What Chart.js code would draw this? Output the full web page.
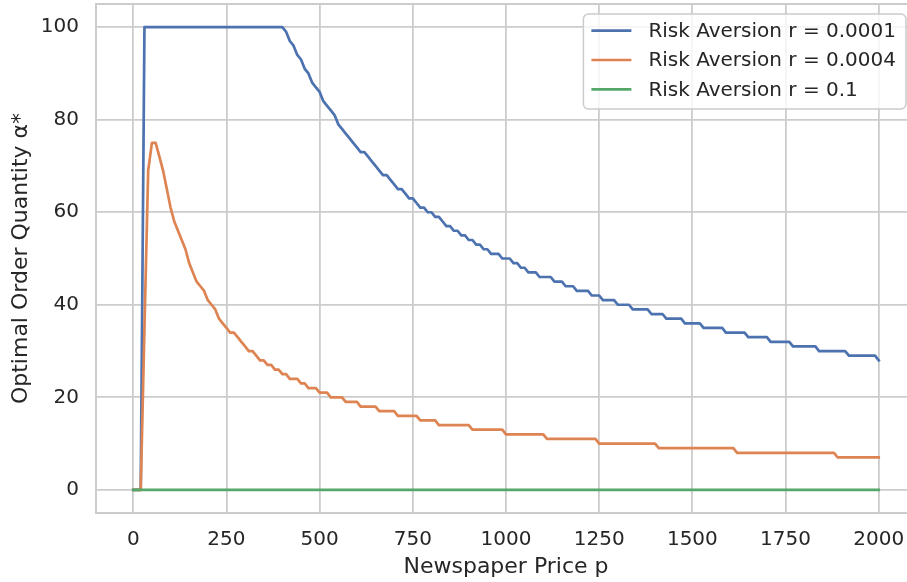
<!DOCTYPE html>
<html>
<head>
<meta charset="utf-8">
<title>Optimal order quantity vs price</title>
<script src="https://cdn.jsdelivr.net/npm/chart.js@4.4.1/dist/chart.umd.min.js"></script>
<style>
  html, body { margin: 0; padding: 0; background: #fff; overflow: hidden; }
  canvas { display: block; }
</style>
</head>
<body>
<canvas id="chart" width="917" height="582"></canvas>
<script>
// newspaper price grid (p)
var prices = [
  0, 10, 20, 30, 40, 50, 60, 70, 80, 90,
  100, 110, 120, 130, 140, 150, 160, 170, 180, 190,
  200, 210, 220, 230, 240, 250, 260, 270, 280, 290,
  300, 310, 320, 330, 340, 350, 360, 370, 380, 390,
  400, 410, 420, 430, 440, 450, 460, 470, 480, 490,
  500, 510, 520, 530, 540, 550, 560, 570, 580, 590,
  600, 610, 620, 630, 640, 650, 660, 670, 680, 690,
  700, 710, 720, 730, 740, 750, 760, 770, 780, 790,
  800, 810, 820, 830, 840, 850, 860, 870, 880, 890,
  900, 910, 920, 930, 940, 950, 960, 970, 980, 990,
  1000, 1010, 1020, 1030, 1040, 1050, 1060, 1070, 1080, 1090,
  1100, 1110, 1120, 1130, 1140, 1150, 1160, 1170, 1180, 1190,
  1200, 1210, 1220, 1230, 1240, 1250, 1260, 1270, 1280, 1290,
  1300, 1310, 1320, 1330, 1340, 1350, 1360, 1370, 1380, 1390,
  1400, 1410, 1420, 1430, 1440, 1450, 1460, 1470, 1480, 1490,
  1500, 1510, 1520, 1530, 1540, 1550, 1560, 1570, 1580, 1590,
  1600, 1610, 1620, 1630, 1640, 1650, 1660, 1670, 1680, 1690,
  1700, 1710, 1720, 1730, 1740, 1750, 1760, 1770, 1780, 1790,
  1800, 1810, 1820, 1830, 1840, 1850, 1860, 1870, 1880, 1890,
  1900, 1910, 1920, 1930, 1940, 1950, 1960, 1970, 1980, 1990,
  2000
]

// optimal order quantity, r = 0.0001
var alphaR0001 = [
  0, 0, 0, 100, 100, 100, 100, 100, 100, 100,
  100, 100, 100, 100, 100, 100, 100, 100, 100, 100,
  100, 100, 100, 100, 100, 100, 100, 100, 100, 100,
  100, 100, 100, 100, 100, 100, 100, 100, 100, 100,
  100, 99, 97, 96, 94, 93, 91, 90, 88, 87,
  86, 84, 83, 82, 81, 79, 78, 77, 76, 75,
  74, 73, 73, 72, 71, 70, 69, 68, 68, 67,
  66, 65, 65, 64, 63, 63, 62, 61, 61, 60,
  60, 59, 59, 58, 57, 57, 56, 56, 55, 55,
  54, 54, 53, 53, 52, 52, 51, 51, 51, 50,
  50, 50, 49, 49, 48, 48, 47, 47, 47, 46,
  46, 46, 46, 45, 45, 45, 44, 44, 44, 43,
  43, 43, 43, 42, 42, 42, 41, 41, 41, 41,
  40, 40, 40, 40, 39, 39, 39, 39, 39, 38,
  38, 38, 38, 37, 37, 37, 37, 37, 36, 36,
  36, 36, 36, 35, 35, 35, 35, 35, 35, 34,
  34, 34, 34, 34, 34, 33, 33, 33, 33, 33,
  33, 32, 32, 32, 32, 32, 32, 31, 31, 31,
  31, 31, 31, 31, 30, 30, 30, 30, 30, 30,
  30, 30, 29, 29, 29, 29, 29, 29, 29, 29,
  28
]

// optimal order quantity, r = 0.0004
var alphaR0004 = [
  0, 0, 0, 35, 69, 75, 75, 72, 69, 65,
  61, 58, 56, 54, 52, 49, 47, 45, 44, 43,
  41, 40, 39, 37, 36, 35, 34, 34, 33, 32,
  31, 30, 30, 29, 28, 28, 27, 27, 26, 26,
  25, 25, 24, 24, 24, 23, 23, 22, 22, 22,
  21, 21, 21, 20, 20, 20, 20, 19, 19, 19,
  19, 18, 18, 18, 18, 18, 17, 17, 17, 17,
  17, 16, 16, 16, 16, 16, 16, 15, 15, 15,
  15, 15, 14, 14, 14, 14, 14, 14, 14, 14,
  14, 13, 13, 13, 13, 13, 13, 13, 13, 13,
  12, 12, 12, 12, 12, 12, 12, 12, 12, 12,
  12, 11, 11, 11, 11, 11, 11, 11, 11, 11,
  11, 11, 11, 11, 11, 10, 10, 10, 10, 10,
  10, 10, 10, 10, 10, 10, 10, 10, 10, 10,
  10, 9, 9, 9, 9, 9, 9, 9, 9, 9,
  9, 9, 9, 9, 9, 9, 9, 9, 9, 9,
  9, 9, 8, 8, 8, 8, 8, 8, 8, 8,
  8, 8, 8, 8, 8, 8, 8, 8, 8, 8,
  8, 8, 8, 8, 8, 8, 8, 8, 8, 7,
  7, 7, 7, 7, 7, 7, 7, 7, 7, 7,
  7
]

// optimal order quantity, r = 0.1
var alphaR01 = [
  0, 0, 0, 0, 0, 0, 0, 0, 0, 0,
  0, 0, 0, 0, 0, 0, 0, 0, 0, 0,
  0, 0, 0, 0, 0, 0, 0, 0, 0, 0,
  0, 0, 0, 0, 0, 0, 0, 0, 0, 0,
  0, 0, 0, 0, 0, 0, 0, 0, 0, 0,
  0, 0, 0, 0, 0, 0, 0, 0, 0, 0,
  0, 0, 0, 0, 0, 0, 0, 0, 0, 0,
  0, 0, 0, 0, 0, 0, 0, 0, 0, 0,
  0, 0, 0, 0, 0, 0, 0, 0, 0, 0,
  0, 0, 0, 0, 0, 0, 0, 0, 0, 0,
  0, 0, 0, 0, 0, 0, 0, 0, 0, 0,
  0, 0, 0, 0, 0, 0, 0, 0, 0, 0,
  0, 0, 0, 0, 0, 0, 0, 0, 0, 0,
  0, 0, 0, 0, 0, 0, 0, 0, 0, 0,
  0, 0, 0, 0, 0, 0, 0, 0, 0, 0,
  0, 0, 0, 0, 0, 0, 0, 0, 0, 0,
  0, 0, 0, 0, 0, 0, 0, 0, 0, 0,
  0, 0, 0, 0, 0, 0, 0, 0, 0, 0,
  0, 0, 0, 0, 0, 0, 0, 0, 0, 0,
  0, 0, 0, 0, 0, 0, 0, 0, 0, 0,
  0
]

var seriesLabels = ['Risk Aversion r = 0.0001', 'Risk Aversion r = 0.0004', 'Risk Aversion r = 0.1']
var priceTicks = [0, 250, 500, 750, 1000, 1250, 1500, 1750, 2000]
var qtyTicks = [0, 20, 40, 60, 80, 100]

var FONT = '"DejaVu Sans", "Liberation Sans", sans-serif'
var INK = '#262626'
var GRID = '#cccccc'
var colors = ['#4c72b0', '#dd8452', '#55a868']

function points(ys) {
  return prices.map(function (p, i) { return { x: p, y: ys[i] } })
}

function series(idx, ys) {
  return {
    label: seriesLabels[idx],
    data: points(ys),
    borderColor: colors[idx],
    backgroundColor: colors[idx],
    borderWidth: 2.7,
    borderJoinStyle: 'round',
    borderCapStyle: 'square',
    pointRadius: 0,
    tension: 0,
    fill: false,
    // later series sit on top, as in the original plot
    order: 3 - idx
  }
}

// light frame round the plotting area
var frame = {
  id: 'frame',
  beforeDatasetsDraw: function (chart) {
    var a = chart.chartArea, ctx = chart.ctx
    ctx.save()
    ctx.strokeStyle = GRID
    ctx.lineWidth = 2
    ctx.strokeRect(a.left, a.top, a.right - a.left, a.bottom - a.top)
    ctx.restore()
  }
}

// legend box in the upper right corner of the axes
var cornerLegend = {
  id: 'cornerLegend',
  afterDraw: function (chart) {
    var ctx = chart.ctx, a = chart.chartArea
    var sets = chart.data.datasets
    ctx.save()
    ctx.font = '20px ' + FONT
    var textW = 0
    sets.forEach(function (d) { textW = Math.max(textW, ctx.measureText(d.label).width) })

    var right = a.right - 10, top = a.top + 10
    var w = textW + 75, h = 95, left = right - w, r = 5
    ctx.beginPath()
    ctx.moveTo(left + r, top)
    ctx.arcTo(right, top, right, top + h, r)
    ctx.arcTo(right, top + h, left, top + h, r)
    ctx.arcTo(left, top + h, left, top, r)
    ctx.arcTo(left, top, right, top, r)
    ctx.closePath()
    ctx.fillStyle = 'rgba(255,255,255,0.8)'
    ctx.fill()
    ctx.strokeStyle = GRID
    ctx.lineWidth = 1.5
    ctx.stroke()

    sets.forEach(function (d, i) {
      var y = top + 16.7 + i * 29.3
      ctx.beginPath()
      ctx.moveTo(left + 8, y)
      ctx.lineTo(left + 48, y)
      ctx.strokeStyle = d.borderColor
      ctx.lineWidth = 2.7
      ctx.stroke()
      ctx.fillStyle = INK
      ctx.textAlign = 'left'
      ctx.textBaseline = 'middle'
      ctx.fillText(d.label, left + 65, y + 1)
    })
    ctx.restore()
  }
}

new Chart(document.getElementById('chart'), {
  type: 'line',
  data: {
    datasets: [
      series(0, alphaR0001),
      series(1, alphaR0004),
      series(2, alphaR01)
    ]
  },
  options: {
    responsive: false,
    devicePixelRatio: 1,
    animation: false,
    events: [],
    parsing: false,
    layout: { padding: { left: 0, top: 4, right: 1, bottom: 0 } },
    plugins: {
      legend: { display: false },
      tooltip: { enabled: false }
    },
    scales: {
      x: {
        type: 'linear',
        min: -100,
        max: 2100,
        afterBuildTicks: function (s) {
          s.ticks = priceTicks.map(function (v) { return { value: v } })
        },
        afterFit: function (s) {
          s.height = 69
          s.paddingLeft = 0
          s.paddingRight = 0
        },
        grid: { color: GRID, lineWidth: 1.8, drawTicks: false },
        border: { display: false },
        ticks: {
          padding: 15,
          color: INK,
          font: { family: FONT, size: 20 },
          maxRotation: 0,
          autoSkip: false,
          callback: function (v) { return String(v) }
        },
        title: {
          display: true,
          text: 'Newspaper Price p',
          color: INK,
          font: { family: FONT, size: 22 },
          padding: { top: 0, bottom: 2 }
        }
      },
      y: {
        type: 'linear',
        min: -5,
        max: 105,
        afterBuildTicks: function (s) {
          s.ticks = qtyTicks.map(function (v) { return { value: v } })
        },
        afterFit: function (s) {
          s.width = 96
          s.paddingTop = 0
          s.paddingBottom = 0
        },
        grid: { color: GRID, lineWidth: 1.8, drawTicks: false },
        border: { display: false },
        ticks: {
          padding: 17,
          color: INK,
          font: { family: FONT, size: 20 },
          autoSkip: false,
          callback: function (v) { return String(v) }
        },
        title: {
          display: true,
          text: 'Optimal Order Quantity α*',
          color: INK,
          font: { family: FONT, size: 22 },
          padding: { top: 8, bottom: 0 }
        }
      }
    }
  },
  plugins: [frame, cornerLegend]
})
</script>
</body>
</html>
